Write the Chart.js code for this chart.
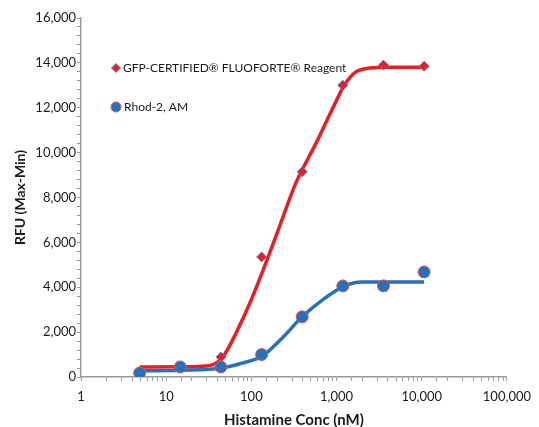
<!DOCTYPE html>
<html>
<head>
<meta charset="utf-8">
<script src="https://cdn.jsdelivr.net/npm/chart.js@4/dist/chart.umd.min.js"></script>
<style>
  html, body { margin: 0; padding: 0; background: #fff; }
  #wrap { width: 539px; height: 427px; }
</style>
</head>
<body>
<div id="wrap"><canvas id="chart" width="539" height="427"></canvas></div>
<script>
// histamine dose response (3-fold dilutions, nM)
const concentrations = [4.88, 14.6, 43.9, 132, 395, 1185, 3556, 10667];
const gfpValues  = [220, 450, 890, 5350, 9150, 13000, 13900, 13850];
const rhodValues = [180, 450, 450, 1000, 2680, 4060, 4060, 4680];

// fitted curves
const gfpFitConc   = [4.88, 14.6, 29.6, 36.7, 42, 48, 63, 98.7, 152, 202, 331, 385, 571, 879, 1280, 1816, 3758, 10667];
const gfpFitValues = [445, 455, 490, 580, 720, 980, 1800, 3400, 5200, 6450, 8630, 9150, 10400, 11890, 13100, 13670, 13810, 13810];
const rhodFitConc   = [4.88, 14.7, 45.6, 78, 133, 228, 392, 710, 1230, 1990, 10667];
const rhodFitValues = [280, 300, 400, 620, 920, 1720, 2670, 3480, 4050, 4230, 4230];

const xTicks = [1, 10, 100, 1000, 10000, 100000];
const legendLabels = ['GFP-CERTIFIED\u00AE FLUOFORTE\u00AE Reagent', 'Rhod-2, AM'];

const RED = '#ec1c24';
const BLUE = '#2672b8';
const FONT = 'Lato, "Open Sans", sans-serif';

function pairs(xs, ys) {
    return xs.map((x, i) => ({ x: x, y: ys[i] }));
}

// legend drawn inside the plot area, like the original
const insideLegend = {
    id: 'insideLegend',
    afterDraw(chart) {
        const ctx = chart.ctx;
        const left = chart.chartArea.left;
        const top = chart.chartArea.top;
        ctx.save();
        ctx.font = '12px ' + FONT;
        ctx.textBaseline = 'middle';

        // diamond
        let mx = left + 35, my = top + 50;
        ctx.beginPath();
        ctx.moveTo(mx, my - 4.5); ctx.lineTo(mx + 4.5, my); ctx.lineTo(mx, my + 4.5); ctx.lineTo(mx - 4.5, my);
        ctx.closePath();
        ctx.fillStyle = RED; ctx.fill();
        ctx.strokeStyle = '#5b7fc0'; ctx.lineWidth = 1; ctx.stroke();
        ctx.fillStyle = '#1a1a1a';
        ctx.fillText(legendLabels[0], mx + 7, my);

        // circle
        my = top + 89;
        ctx.beginPath();
        ctx.arc(mx, my, 5, 0, Math.PI * 2);
        ctx.fillStyle = BLUE; ctx.fill();
        ctx.strokeStyle = '#e0505a'; ctx.lineWidth = 1; ctx.stroke();
        ctx.fillStyle = '#1a1a1a';
        ctx.fillText(legendLabels[1], mx + 8, my);
        ctx.restore();
    }
};

const ctx = document.getElementById('chart').getContext('2d');
const chart = new Chart(ctx, {
    type: 'line',
    data: {
        datasets: [
            {
                label: legendLabels[1] + ' points',
                data: pairs(concentrations, rhodValues),
                showLine: false,
                pointStyle: 'circle',
                pointRadius: 6,
                backgroundColor: BLUE,
                borderColor: '#e0505a',
                borderWidth: 1,
                order: 0
            },
            {
                label: legendLabels[0] + ' points',
                data: pairs(concentrations, gfpValues),
                showLine: false,
                pointStyle: 'rectRot',
                pointRadius: 5,
                backgroundColor: RED,
                borderColor: '#5b7fc0',
                borderWidth: 1,
                order: 1
            },
            {
                label: legendLabels[1] + ' fit',
                data: pairs(rhodFitConc, rhodFitValues),
                borderColor: BLUE,
                borderWidth: 3.5,
                pointRadius: 0,
                cubicInterpolationMode: 'monotone',
                fill: false,
                order: 2
            },
            {
                label: legendLabels[0] + ' fit',
                data: pairs(gfpFitConc, gfpFitValues),
                borderColor: RED,
                borderWidth: 3.5,
                pointRadius: 0,
                cubicInterpolationMode: 'monotone',
                fill: false,
                order: 3
            }
        ]
    },
    options: {
        responsive: false,
        animation: false,
        layout: { padding: { left: 13, right: 30, top: 18, bottom: 0 } },
        plugins: {
            legend: { display: false },
            tooltip: { enabled: false }
        },
        scales: {
            x: {
                type: 'logarithmic',
                min: 1,
                max: 100000,
                border: { display: true, color: '#9a9a9a', width: 1.5 },
                grid: { drawOnChartArea: false, drawTicks: true, tickLength: 4, color: '#9a9a9a' },
                ticks: {
                    autoSkip: false,
                    maxRotation: 0,
                    color: '#1a1a1a',
                    font: { family: FONT, size: 13 },
                    padding: 8,
                    callback: function(value) {
                        return xTicks.includes(value) ? value.toLocaleString('en-US') : '';
                    }
                },
                title: {
                    display: true,
                    text: 'Histamine Conc (nM)',
                    color: '#1a1a1a',
                    font: { family: FONT, size: 15, weight: 'bold', lineHeight: 1 },
                    padding: { top: 4, bottom: -1 }
                },
                afterFit: function(scale) { scale.height = 50; }
            },
            y: {
                min: 0,
                max: 16000,
                border: { display: true, color: '#9a9a9a', width: 1.5 },
                grid: { drawOnChartArea: false, drawTicks: true, tickLength: 4, color: '#9a9a9a' },
                ticks: {
                    stepSize: 400,
                    autoSkip: false,
                    color: '#1a1a1a',
                    font: { family: FONT, size: 13 },
                    padding: 1,
                    callback: function(value) {
                        return value % 2000 === 0 ? value.toLocaleString('en-US') : '';
                    }
                },
                title: {
                    display: true,
                    text: 'RFU (Max-Min)',
                    color: '#1a1a1a',
                    font: { family: FONT, size: 14, weight: 'bold', lineHeight: 1 },
                    padding: { top: 0, bottom: 4 }
                },
                afterFit: function(scale) { scale.width = 68; }
            }
        }
    },
    plugins: [insideLegend]
});
</script>
</body>
</html>
